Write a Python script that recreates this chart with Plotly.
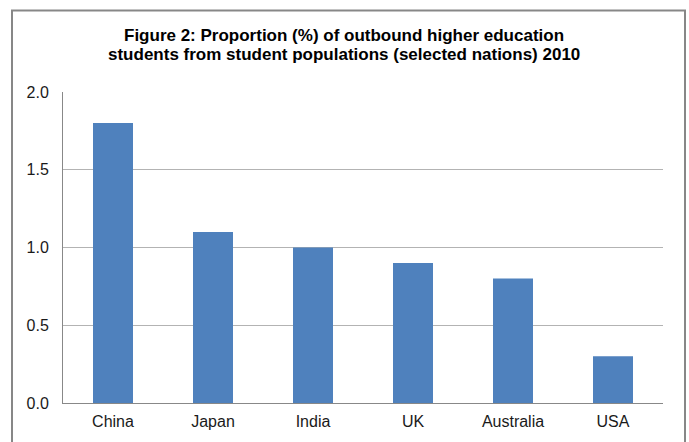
import plotly.graph_objects as go

countries = ["China", "Japan", "India", "UK", "Australia", "USA"]
proportions = [1.8, 1.1, 1.0, 0.9, 0.8, 0.3]
y_ticks = [0.0, 0.5, 1.0, 1.5, 2.0]
y_tick_labels = ["0.0", "0.5", "1.0", "1.5", "2.0"]
title_lines = ["Figure 2: Proportion (%) of outbound higher education",
               "students from student populations (selected nations) 2010"]

fig = go.Figure(go.Bar(x=countries, y=proportions, marker=dict(color="#4F81BD", line=dict(width=0)),
                       width=0.4))

W, H = 689, 442
L, R, T, B = 63, 26, 92, 37
pw, ph = W - L - R, H - T - B

title_y = [35, 54]
annotations = [dict(text=f"<b>{t}</b>", xref="paper", yref="paper",
                    x=(344 - L) / pw, y=(H - B - yy) / ph, xanchor="center", yanchor="middle",
                    showarrow=False, font=dict(size=17, color="#000000"))
               for t, yy in zip(title_lines, title_y)]

fig.update_layout(
    width=W, height=H,
    margin=dict(l=L, r=R, t=T, b=B),
    paper_bgcolor="white", plot_bgcolor="white",
    font=dict(family="Liberation Sans, Arial, sans-serif", size=16, color="#000000"),
    showlegend=False,
    bargap=0.6,
    annotations=annotations,
    xaxis=dict(showline=True, linecolor="#888888", linewidth=1, ticks="", showgrid=False,
               tickfont=dict(size=16, color="#1a1a1a"), ticklabelstandoff=4),
    yaxis=dict(range=[0, 2.0], tickvals=y_ticks, ticktext=y_tick_labels, showline=True,
               linecolor="#888888", linewidth=1, gridcolor="#b3b3b3", gridwidth=1,
               ticks="", tickfont=dict(size=16, color="#1a1a1a"), zeroline=False,
               ticklabelstandoff=10),
    shapes=[dict(type="rect", xref="paper", yref="paper",
                 x0=(12 - L) / pw, x1=(685 - L) / pw, y0=-0.3, y1=(H - B - 10) / ph,
                 line=dict(color="#878787", width=2), fillcolor="rgba(0,0,0,0)", layer="below")],
)

fig.write_html("out.html")
